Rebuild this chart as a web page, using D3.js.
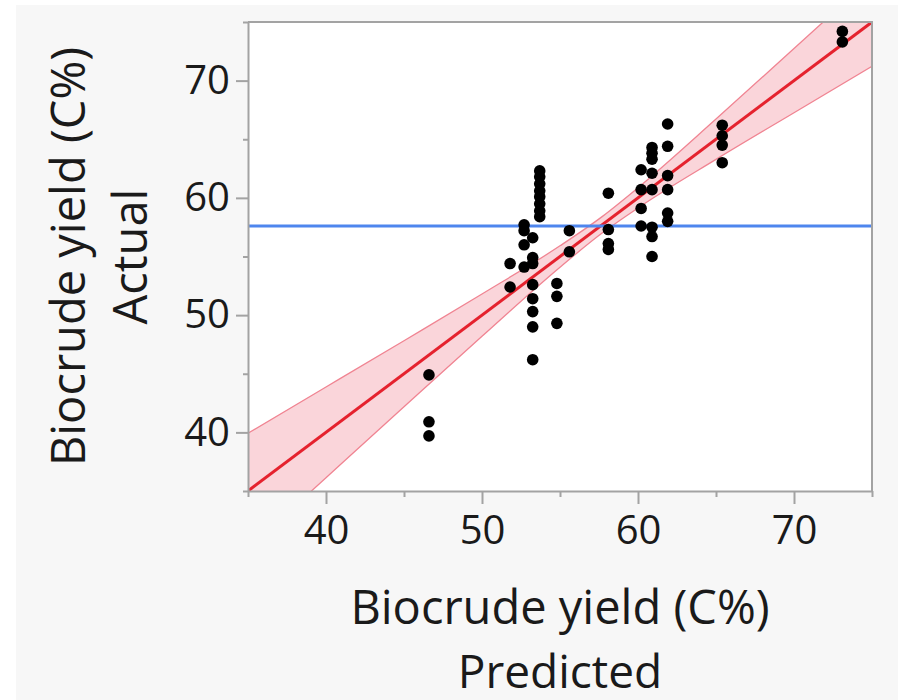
<!DOCTYPE html>
<html>
<head>
<meta charset="utf-8">
<script src="https://cdn.jsdelivr.net/npm/d3@7"></script>
<style>
  body { margin: 0; background: #ffffff; }
  svg { display: block; }
  text { font-family: "Open Sans", "Noto Sans", sans-serif; fill: #1a1a1a; }
</style>
</head>
<body>
<svg id="chart" width="898" height="700"></svg>
<script>
// Biocrude yield (C%): model prediction vs. measured value for each run
const predicted = [
  46.6, 46.6, 46.6,
  51.8, 51.8,
  52.7, 52.7, 52.7, 52.7,
  53.25, 53.25, 53.25, 53.25, 53.25, 53.25, 53.25, 53.25,
  53.7, 53.7, 53.7, 53.7, 53.7, 53.7, 53.7, 53.7,
  54.8, 54.8, 54.8,
  55.6, 55.6,
  58.1, 58.1, 58.1, 58.1,
  60.2, 60.2, 60.2, 60.2,
  60.9, 60.9, 60.9, 60.9, 60.9, 60.9, 60.9, 60.9,
  61.9, 61.9, 61.9, 61.9, 61.9, 61.9,
  65.4, 65.4, 65.4, 65.4,
  73.1, 73.1
];
const actual = [
  44.9, 40.9, 39.7,
  54.4, 52.4,
  57.7, 57.2, 56.0, 54.1,
  56.6, 54.9, 54.4, 52.6, 51.4, 50.3, 49.0, 46.2,
  62.3, 61.8, 61.2, 60.6, 60.1, 59.5, 58.9, 58.4,
  52.7, 51.6, 49.3,
  57.2, 55.4,
  60.4, 57.3, 56.1, 55.6,
  62.4, 60.7, 59.1, 57.6,
  64.3, 63.8, 63.3, 62.1, 60.7, 57.5, 56.7, 55.0,
  66.3, 64.4, 61.9, 60.7, 58.7, 58.0,
  66.2, 65.3, 64.5, 63.0,
  74.2, 73.3
];

// Mean of the actual response (horizontal reference line)
const actualMean = 57.6;

// Fit line (actual = predicted) end points
const fitLine = [35, 75];

// 95% confidence curves around the fit line
const bandPredicted = [35, 40, 45, 50, 55, 57.7, 60, 65, 70, 75];
const bandLower     = [30.07, 36.13, 42.18, 48.2, 54.09, 57.0, 59.14, 63.28, 67.26, 71.22];
const bandUpper     = [39.93, 43.87, 47.82, 51.8, 55.91, 58.4, 60.86, 66.72, 72.74, 78.78];

// Axis ticks
const majorTicks = [40, 50, 60, 70];
const minorTicks = [35, 45, 55, 65, 75];
const axisDomain = [35, 75];

const svg = d3.select("#chart");

// panel background
svg.append("rect")
  .attr("x", 16).attr("y", 5).attr("width", 882).attr("height", 695)
  .attr("fill", "#f7f7f7");

const plot = { left: 248, right: 872, top: 22, bottom: 491 };

const x = d3.scaleLinear().domain(axisDomain).range([plot.left, plot.right]);
const y = d3.scaleLinear().domain(axisDomain).range([plot.bottom, plot.top]);

// plot area
svg.append("rect")
  .attr("x", plot.left).attr("y", plot.top)
  .attr("width", plot.right - plot.left).attr("height", plot.bottom - plot.top)
  .attr("fill", "#ffffff");

svg.append("clipPath").attr("id", "plot-clip")
  .append("rect")
  .attr("x", plot.left).attr("y", plot.top)
  .attr("width", plot.right - plot.left).attr("height", plot.bottom - plot.top);

const inner = svg.append("g").attr("clip-path", "url(#plot-clip)");

const band = bandPredicted.map((p, i) => ({ p, lo: bandLower[i], hi: bandUpper[i] }));

inner.append("path")
  .datum(band)
  .attr("fill", "#f9d0d6")
  .attr("fill-opacity", 0.9)
  .attr("d", d3.area()
    .x(d => x(d.p)).y0(d => y(d.lo)).y1(d => y(d.hi))
    .curve(d3.curveMonotoneX));

["lo", "hi"].forEach(k => {
  inner.append("path")
    .datum(band)
    .attr("fill", "none")
    .attr("stroke", "#f08492")
    .attr("stroke-width", 1.3)
    .attr("d", d3.line().x(d => x(d.p)).y(d => y(d[k])).curve(d3.curveMonotoneX));
});

// fit line
inner.append("path")
  .datum(fitLine)
  .attr("fill", "none")
  .attr("stroke", "#e5222e")
  .attr("stroke-width", 3)
  .attr("d", d3.line().x(d => x(d)).y(d => y(d)));

// mean line
inner.append("line")
  .attr("x1", plot.left).attr("x2", plot.right)
  .attr("y1", y(actualMean)).attr("y2", y(actualMean))
  .attr("stroke", "#4e86ee")
  .attr("stroke-width", 3);

// observations
inner.selectAll("circle.obs")
  .data(predicted.map((p, i) => ({ p, a: actual[i] })))
  .join("circle")
  .attr("class", "obs")
  .attr("cx", d => x(d.p))
  .attr("cy", d => y(d.a))
  .attr("r", 5.8)
  .attr("fill", "#000000");

// frame (top and right)
svg.append("path")
  .attr("d", `M${plot.left},${plot.top}H${plot.right}V${plot.bottom}`)
  .attr("fill", "none")
  .attr("stroke", "#a3a3a3")
  .attr("stroke-width", 2);

function styleAxis(g) {
  g.select(".domain").attr("stroke", "#a3a3a3").attr("stroke-width", 2);
  g.selectAll(".tick line").attr("stroke", "#a3a3a3").attr("stroke-width", 2);
  g.selectAll("text").attr("font-size", 40).attr("fill", "#1a1a1a")
    .attr("font-family", '"Open Sans", "Noto Sans", sans-serif');
}

// x axis
const xAxisG = svg.append("g").attr("transform", `translate(0,${plot.bottom})`);
xAxisG.call(d3.axisBottom(x).tickValues(majorTicks).tickSize(13).tickPadding(12).tickSizeOuter(0));
styleAxis(xAxisG);
xAxisG.selectAll(".tick text").attr("dy", "0.71em");
svg.append("g").attr("transform", `translate(0,${plot.bottom})`)
  .call(d3.axisBottom(x).tickValues(minorTicks).tickSize(6).tickFormat("").tickSizeOuter(0))
  .call(g => { g.select(".domain").remove(); g.selectAll(".tick line").attr("stroke", "#a3a3a3").attr("stroke-width", 2); });

// y axis
const yAxisG = svg.append("g").attr("transform", `translate(${plot.left},0)`);
yAxisG.call(d3.axisLeft(y).tickValues(majorTicks).tickSize(12).tickPadding(6).tickSizeOuter(0));
styleAxis(yAxisG);
svg.append("g").attr("transform", `translate(${plot.left},0)`)
  .call(d3.axisLeft(y).tickValues(minorTicks).tickSize(5).tickFormat("").tickSizeOuter(0))
  .call(g => { g.select(".domain").remove(); g.selectAll(".tick line").attr("stroke", "#a3a3a3").attr("stroke-width", 2); });

// axis titles
const cx = (plot.left + plot.right) / 2;
const cy = (plot.top + plot.bottom) / 2;

svg.append("text")
  .attr("x", cx).attr("y", 624)
  .attr("text-anchor", "middle").attr("font-size", 47)
  .text("Biocrude yield (C%)");
svg.append("text")
  .attr("x", cx).attr("y", 688)
  .attr("text-anchor", "middle").attr("font-size", 46)
  .text("Predicted");

svg.append("text")
  .attr("transform", `translate(85,${cy}) rotate(-90)`)
  .attr("text-anchor", "middle").attr("font-size", 47)
  .text("Biocrude yield (C%)");
svg.append("text")
  .attr("transform", `translate(147,${cy}) rotate(-90)`)
  .attr("text-anchor", "middle").attr("font-size", 47)
  .text("Actual");
</script>
</body>
</html>
